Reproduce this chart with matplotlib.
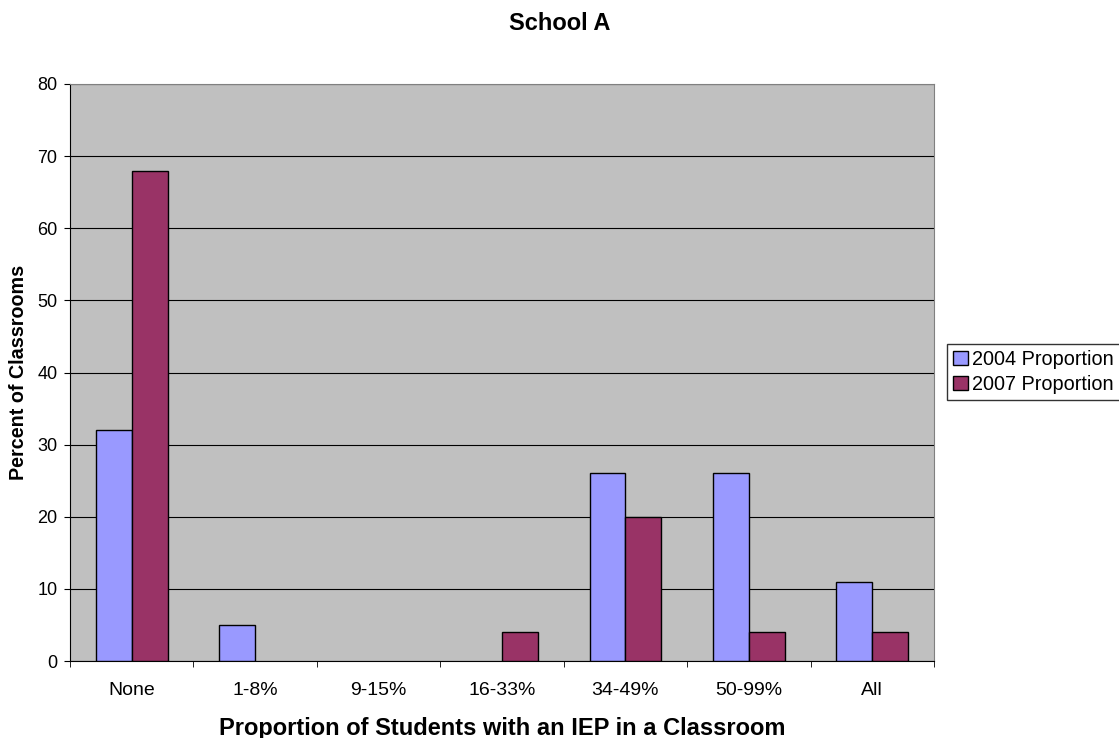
import numpy as np
from matplotlib import pyplot as plt

plt.rcParams["font.family"] = ["Liberation Sans", "DejaVu Sans"]

categories = ["None", "1-8%", "9-15%", "16-33%", "34-49%", "50-99%", "All"]
vals_2004 = [32, 5, 0, 0, 26, 26, 11]
vals_2007 = [68, 0, 0, 4, 20, 4, 4]
series_names = ["2004 Proportion", "2007 Proportion"]

fig = plt.figure(figsize=(11.19, 7.38), dpi=100)
ax = fig.add_axes([70 / 1119, 1 - 661 / 738, 864 / 1119, 577 / 738])
ax.set_facecolor("#C0C0C0")

x = np.arange(len(categories))
w = 0.29
# zero values draw nothing (no flat outline on the axis)
h04 = np.where(np.array(vals_2004) == 0, np.nan, vals_2004)
h07 = np.where(np.array(vals_2007) == 0, np.nan, vals_2007)
ax.bar(x - w / 2, h04, w, color="#9999FF", edgecolor="black", linewidth=1, label=series_names[0], zorder=3)
ax.bar(x + w / 2, h07, w, color="#993366", edgecolor="black", linewidth=1, label=series_names[1], zorder=3)

ax.set_xlim(-0.5, len(categories) - 0.5)
ax.set_ylim(0, 80)
ax.set_yticks(range(0, 81, 10))
ax.yaxis.grid(True, color="black", linewidth=0.8, zorder=0)
ax.set_axisbelow(True)

ax.set_xticks(x)
ax.set_xticklabels(categories, fontsize=14)
ax.tick_params(axis="x", length=0, pad=15)
ax.set_xticks(np.arange(-0.5, len(categories)), minor=True)
ax.tick_params(axis="x", which="minor", length=4, direction="out")
ax.tick_params(axis="y", labelsize=13, length=4, pad=5, direction="out")

for side in ["top", "right"]:
    ax.spines[side].set_color("#808080")
for side in ["left", "bottom"]:
    ax.spines[side].set_color("black")

ax.set_xlabel("Proportion of Students with an IEP in a Classroom", fontsize=17, fontweight="bold", labelpad=13)
ax.set_ylabel("Percent of Classrooms", fontsize=14.2, fontweight="bold", labelpad=7)
fig.text(0.5, 1 - 30 / 738, "School A", ha="center", va="baseline", fontsize=17, fontweight="bold")

leg = fig.legend(loc="upper left", bbox_to_anchor=(947 / 1119, 1 - 344 / 738), fontsize=14.3,
                 frameon=True, fancybox=False, edgecolor="black", handlelength=0.75, handleheight=0.75,
                 handletextpad=0.2, borderpad=0.3, labelspacing=0.3, borderaxespad=0)
leg.get_frame().set_linewidth(1)

fig.savefig("out.png", dpi=100, facecolor="white")
plt.close(fig)
